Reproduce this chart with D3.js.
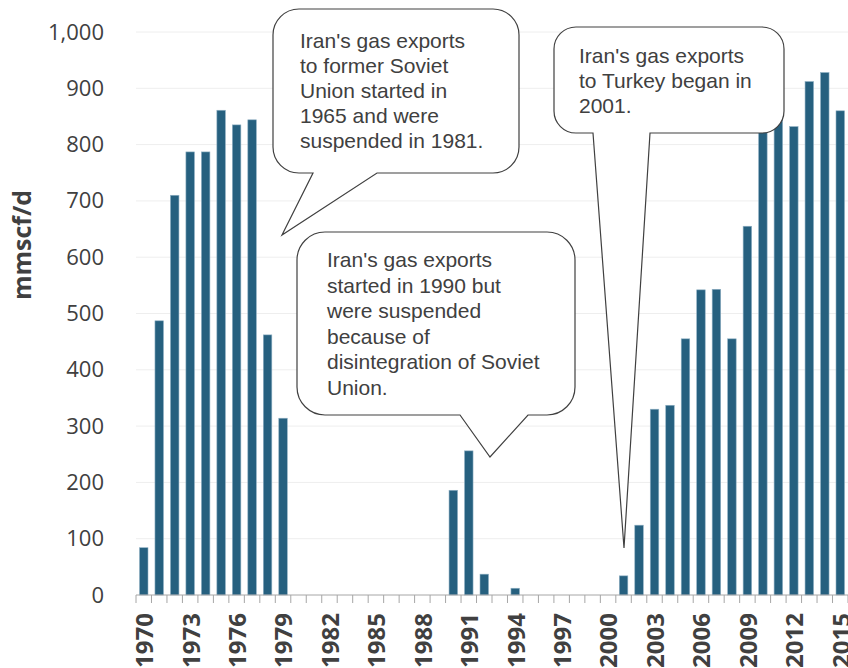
<!DOCTYPE html>
<html>
<head>
<meta charset="utf-8">
<script src="https://cdn.jsdelivr.net/npm/d3@7"></script>
<style>
  html, body { margin: 0; padding: 0; background: #ffffff; }
  svg { display: block; }
</style>
</head>
<body>
<svg id="chart" width="848" height="668"></svg>
<script>
// Iran's natural gas exports, million standard cubic feet per day
const years = [
  1970, 1971, 1972, 1973, 1974, 1975, 1976, 1977, 1978, 1979,
  1980, 1981, 1982, 1983, 1984, 1985, 1986, 1987, 1988, 1989,
  1990, 1991, 1992, 1993, 1994, 1995, 1996, 1997, 1998, 1999,
  2000, 2001, 2002, 2003, 2004, 2005, 2006, 2007, 2008, 2009,
  2010, 2011, 2012, 2013, 2014, 2015
];
const exportsMmscfd = [
  84, 487, 710, 787, 787, 861, 835, 844, 462, 314,
  0, 0, 0, 0, 0, 0, 0, 0, 0, 0,
  186, 256, 37, 0, 12, 0, 0, 0, 0, 0,
  0, 34, 124, 330, 337, 455, 542, 543, 455, 655,
  850, 870, 832, 912, 928, 860
];
const xTickYears = [1970, 1973, 1976, 1979, 1982, 1985, 1988, 1991, 1994, 1997, 2000, 2003, 2006, 2009, 2012, 2015];
const yTicks = [0, 100, 200, 300, 400, 500, 600, 700, 800, 900, 1000];
const yTitle = "mmscf/d";

const callouts = [
  {
    lines: ["Iran's gas exports", "to former Soviet", "Union started in", "1965 and were", "suspended in 1981."],
    box: [273, 9, 519, 173], r: 26, base: [313, 377], tip: [282, 235],
    tx: 300, ty: 48, lh: 25
  },
  {
    lines: ["Iran's gas exports", "started in 1990 but", "were suspended", "because of", "disintegration of Soviet", "Union."],
    box: [297, 232, 575, 415], r: 28, base: [460, 528], tip: [490, 457],
    tx: 327, ty: 267, lh: 25.6
  },
  {
    lines: ["Iran's gas exports", "to Turkey began in", "2001."],
    box: [554, 27, 784, 133], r: 22, base: [593, 650], tip: [624, 548],
    tx: 579, ty: 63, lh: 25
  }
];

const svg = d3.select("#chart");
const plot = { left: 136, right: 848, top: 32, bottom: 595 };
const textColor = "#404040";

const x = d3.scaleBand()
  .domain(years)
  .range([plot.left, plot.right])
  .paddingInner(0.45)
  .paddingOuter(0.225);

const y = d3.scaleLinear()
  .domain([0, 1000])
  .range([plot.bottom, plot.top]);

// gridlines
svg.append("g")
  .selectAll("line")
  .data(yTicks.filter(d => d > 0))
  .join("line")
  .attr("x1", plot.left)
  .attr("x2", plot.right)
  .attr("y1", d => y(d))
  .attr("y2", d => y(d))
  .attr("stroke", "#eeeeee")
  .attr("stroke-width", 1);

// y axis labels
const yAxis = d3.axisLeft(y)
  .tickValues(yTicks)
  .tickFormat(d3.format(","))
  .tickSize(0)
  .tickPadding(0);
svg.append("g")
  .attr("transform", `translate(104,0)`)
  .call(yAxis)
  .call(g => g.select(".domain").remove())
  .call(g => g.selectAll("text")
    .attr("fill", textColor)
    .style("font-family", "'Open Sans', sans-serif")
    .style("font-size", "22px"));

// bars
svg.append("g")
  .selectAll("rect")
  .data(years.map((yr, i) => ({ yr, v: exportsMmscfd[i] })).filter(d => d.v > 0))
  .join("rect")
  .attr("x", d => x(d.yr))
  .attr("width", x.bandwidth())
  .attr("y", d => y(d.v))
  .attr("height", d => y(0) - y(d.v))
  .attr("fill", "#26607f")
  .attr("stroke", "#8fb0c4")
  .attr("stroke-width", 0.6);

// x axis line and ticks at category boundaries
const step = x.step();
const bounds = d3.range(years.length + 1).map(i => plot.left + i * step);
const xg = svg.append("g");
xg.append("line")
  .attr("x1", plot.left).attr("x2", plot.right)
  .attr("y1", plot.bottom).attr("y2", plot.bottom)
  .attr("stroke", "#a6a6a6").attr("stroke-width", 1);
xg.selectAll("line.tick")
  .data(bounds)
  .join("line")
  .attr("class", "tick")
  .attr("x1", d => d).attr("x2", d => d)
  .attr("y1", plot.bottom).attr("y2", plot.bottom + 8)
  .attr("stroke", "#a6a6a6").attr("stroke-width", 1);

// x labels
xg.selectAll("text")
  .data(xTickYears)
  .join("text")
  .attr("transform", d => `translate(${x(d) + x.bandwidth() / 2 + 1},613) rotate(-90)`)
  .attr("text-anchor", "end")
  .attr("dy", "0.35em")
  .attr("fill", textColor)
  .style("font-family", "'Open Sans', sans-serif")
  .style("font-weight", "bold")
  .style("font-size", "24px")
  .text(d => d);

// y axis title
svg.append("text")
  .attr("transform", "translate(22,245) rotate(-90)")
  .attr("text-anchor", "middle")
  .attr("dy", "0.35em")
  .attr("fill", textColor)
  .style("font-family", "'Open Sans', sans-serif")
  .style("font-weight", "bold")
  .style("font-size", "25px")
  .text(yTitle);

// speech-bubble callouts
function bubblePath(c) {
  const [x0, y0, x1, y1] = c.box;
  const r = c.r;
  const p = d3.path();
  p.moveTo(x0 + r, y0);
  p.lineTo(x1 - r, y0);
  p.arcTo(x1, y0, x1, y0 + r, r);
  p.lineTo(x1, y1 - r);
  p.arcTo(x1, y1, x1 - r, y1, r);
  p.lineTo(c.base[1], y1);
  p.lineTo(c.tip[0], c.tip[1]);
  p.lineTo(c.base[0], y1);
  p.lineTo(x0 + r, y1);
  p.arcTo(x0, y1, x0, y1 - r, r);
  p.lineTo(x0, y0 + r);
  p.arcTo(x0, y0, x0 + r, y0, r);
  p.closePath();
  return p.toString();
}

const cg = svg.append("g")
  .selectAll("g")
  .data(callouts)
  .join("g");
cg.append("path")
  .attr("d", bubblePath)
  .attr("fill", "#ffffff")
  .attr("stroke", "#404040")
  .attr("stroke-width", 1.2);
cg.each(function (c) {
  d3.select(this).append("g")
    .selectAll("text")
    .data(c.lines)
    .join("text")
    .attr("x", c.tx)
    .attr("y", (d, i) => c.ty + i * c.lh)
    .attr("fill", textColor)
    .style("font-family", "'Liberation Sans', Arial, sans-serif")
    .style("font-size", "21px")
    .text(d => d);
});
</script>
</body>
</html>
